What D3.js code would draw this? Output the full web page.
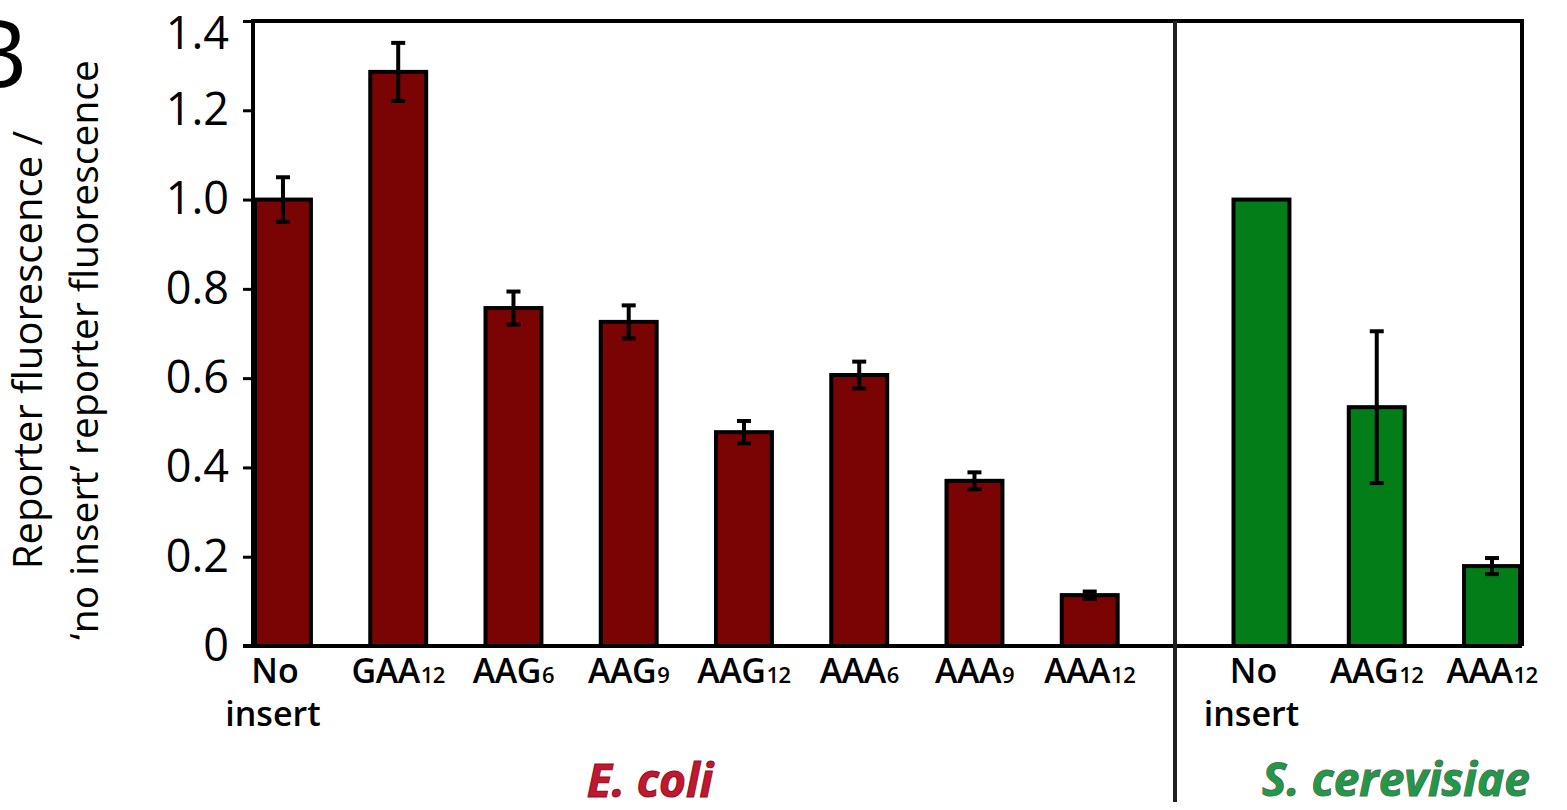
<!DOCTYPE html>
<html>
<head>
<meta charset="utf-8">
<script src="https://cdn.jsdelivr.net/npm/d3@7"></script>
<style>
  html, body { margin: 0; padding: 0; background: #fff; }
  svg { display: block; }
  text { font-family: "Open Sans", "Noto Sans", sans-serif; }
</style>
</head>
<body>
<svg id="chart" width="1567" height="810"></svg>
<script>
// ---------- data ----------
const ecoliCats = ["No insert", "GAA12", "AAG6", "AAG9", "AAG12", "AAA6", "AAA9", "AAA12"];
const ecoliValues = [1.0, 1.286, 0.757, 0.726, 0.479, 0.607, 0.370, 0.114];
const ecoliErrors = [0.050, 0.065, 0.037, 0.037, 0.025, 0.030, 0.019, 0.008];

const yeastCats = ["No insert", "AAG12", "AAA12"];
const yeastValues = [1.0, 0.535, 0.179];
const yeastErrors = [0, 0.170, 0.018];

const yTicks = [0, 0.2, 0.4, 0.6, 0.8, 1.0, 1.2, 1.4];
const yTickLabels = ["0", "0.2", "0.4", "0.6", "0.8", "1.0", "1.2", "1.4"];

const yLabelLines = ["Reporter fluorescence /", "\u2018no insert\u2019 reporter fluorescence"];
const groupLabels = ["E. coli", "S. cerevisiae"];
const panelLetter = "B";

// ---------- layout ----------
(function () {
const svg = d3.select("#chart");
const pL = 253, pR = 1522, pT = 21, pB = 646, sep = 1175;
const ecoliColor = "#7a0304", yeastColor = "#027d17";

const y = d3.scaleLinear().domain([0, 1.4]).range([pB, pT]);

const xE = d3.scaleBand().domain(ecoliCats).range([pL, sep])
  .paddingInner(0.48).paddingOuter(0.24).align(0);
const xY = d3.scaleBand().domain(yeastCats).range([sep, pR])
  .paddingInner(0.48).paddingOuter(0.245).align(1);

function drawGroup(cats, vals, errs, xs, color) {
  const data = cats.map((c, i) => ({ c, v: vals[i], e: errs[i] }));
  const g = svg.append("g");
  g.selectAll("rect").data(data).join("rect")
    .attr("x", d => xs(d.c) + 2)
    .attr("width", xs.bandwidth() - 4)
    .attr("y", d => y(d.v))
    .attr("height", d => y(0) - y(d.v))
    .attr("fill", color)
    .attr("stroke", "#000")
    .attr("stroke-width", 4);
  const eb = g.selectAll("g.err").data(data.filter(d => d.e > 0)).join("g").attr("class", "err");
  const cx = d => xs(d.c) + xs.bandwidth() / 2;
  eb.append("line")
    .attr("x1", cx).attr("x2", cx)
    .attr("y1", d => y(d.v + d.e)).attr("y2", d => y(d.v - d.e))
    .attr("stroke", "#000").attr("stroke-width", 4);
  [1, -1].forEach(s => {
    eb.append("line")
      .attr("x1", d => cx(d) - 7).attr("x2", d => cx(d) + 7)
      .attr("y1", d => y(d.v + s * d.e)).attr("y2", d => y(d.v + s * d.e))
      .attr("stroke", "#000").attr("stroke-width", 4);
  });
  // category labels
  const lab = svg.append("g").attr("font-weight", 600).attr("fill", "#000");
  data.forEach(d => {
    const x0 = cx(d);
    const m = d.c.match(/^([A-Z]+)(\d+)$/);
    if (m) {
      const t = lab.append("text").attr("x", x0).attr("y", 683)
        .attr("text-anchor", "middle").attr("letter-spacing", -0.5);
      t.append("tspan").attr("font-size", 34).text(m[1]);
      t.append("tspan").attr("font-size", 22).attr("dx", 1).text(m[2]);
    } else {
      const parts = d.c.split(" ");
      lab.append("text").attr("x", x0 - 8).attr("y", 683)
        .attr("text-anchor", "middle").attr("font-size", 34).text(parts[0]);
      lab.append("text").attr("x", x0 - 10).attr("y", 726)
        .attr("text-anchor", "middle").attr("font-size", 34).text(parts[1]);
    }
  });
}

drawGroup(ecoliCats, ecoliValues, ecoliErrors, xE, ecoliColor);
drawGroup(yeastCats, yeastValues, yeastErrors, xY, yeastColor);

// y axis
const yAxis = d3.axisLeft(y).tickValues(yTicks)
  .tickFormat((d, i) => yTickLabels[i]).tickSize(10).tickPadding(14);
const ag = svg.append("g").attr("transform", `translate(${pL},0)`).call(yAxis);
ag.select(".domain").remove();
ag.selectAll(".tick line").attr("stroke", "#000").attr("stroke-width", 3);
ag.selectAll(".tick text").attr("font-size", 45).attr("fill", "#000")
  .attr("font-weight", 500)
  .attr("font-family", "'Open Sans', sans-serif")
  .attr("dy", d => d === 1.4 ? "0.6em" : "0.32em");

// frame
const frame = svg.append("g").attr("stroke", "#000").attr("stroke-width", 4).attr("fill", "none");
frame.append("path").attr("d", `M${pL},${pB}V${pT}H${pR}V${pB}`);
frame.append("line").attr("x1", pL - 10).attr("x2", pR).attr("y1", pB).attr("y2", pB);
svg.append("line").attr("x1", sep).attr("x2", sep).attr("y1", pT).attr("y2", 802)
  .attr("stroke", "#231f20").attr("stroke-width", 4);

// y label
const yl = svg.append("g").attr("transform", "translate(0,350) rotate(-90)")
  .attr("font-weight", 500).attr("fill", "#000");
yl.append("text").attr("x", 0).attr("y", 42).attr("text-anchor", "middle")
  .attr("font-size", 40).text(yLabelLines[0]);
yl.append("text").attr("x", 0).attr("y", 98).attr("text-anchor", "middle")
  .attr("font-size", 39).text(yLabelLines[1]);

// group labels
svg.append("text").attr("x", 650).attr("y", 797)
  .attr("text-anchor", "middle").attr("font-size", 46).attr("font-weight", 700)
  .attr("font-style", "italic").attr("fill", "#c1172f")
  .attr("stroke", "#8c0f1f").attr("stroke-width", 1).text(groupLabels[0]);
svg.append("text").attr("x", 1396).attr("y", 796)
  .attr("text-anchor", "middle").attr("font-size", 46).attr("font-weight", 700)
  .attr("font-style", "italic").attr("fill", "#1f9a48")
  .attr("stroke", "#4f6f55").attr("stroke-width", 1).text(groupLabels[1]);

// panel letter
svg.append("text").attr("x", 27).attr("y", 88).attr("text-anchor", "end")
  .attr("font-size", 95).attr("fill", "#000").text(panelLetter);
})();
</script>
</body>
</html>
